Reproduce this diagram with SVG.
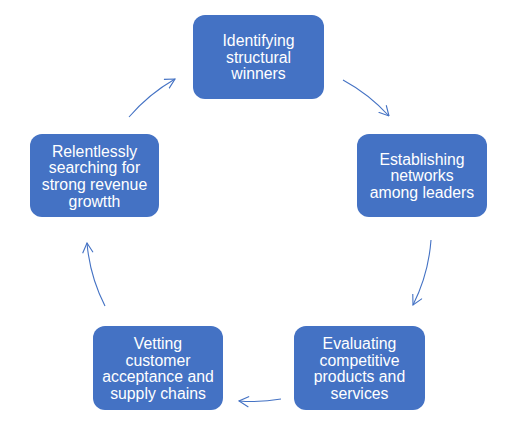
<svg xmlns="http://www.w3.org/2000/svg" width="516" height="430" viewBox="0 0 516 430">
<style>
.box{fill:#4472C4;}
.t{font-family:"Liberation Sans",Arial,sans-serif;font-size:15.8px;fill:#FFFFFF;text-anchor:middle;}
.c{fill:none;stroke:#4472C4;stroke-width:1.1;}
</style>
<defs>
<marker id="ah" viewBox="0 0 11 12" refX="10.3" refY="6" markerUnits="userSpaceOnUse" markerWidth="11" markerHeight="12" orient="auto">
<path d="M0.5,0.8 L10.3,6 L0.5,11.2" fill="none" stroke="#4472C4" stroke-width="1.1"/>
</marker>
</defs>
<rect width="516" height="430" fill="#FFFFFF"/>
<g id="connectors">
<path class="c" d="M343,80 A176,176 0 0 1 389,116" marker-end="url(#ah)"/>
<path class="c" d="M431,240 A172,172 0 0 1 413,305" marker-end="url(#ah)"/>
<path class="c" d="M281,399 A167,167 0 0 1 239,401" marker-end="url(#ah)"/>
<path class="c" d="M105,306 A170,170 0 0 1 87,243" marker-end="url(#ah)"/>
<path class="c" d="M129,117 A176,176 0 0 1 175,79" marker-end="url(#ah)"/>
</g>
<g id="n1">
<rect class="box" x="193" y="15" width="131" height="84" rx="12"/>
<text class="t"><tspan x="258.5" y="46">Identifying</tspan><tspan x="258.5" y="62.5">structural</tspan><tspan x="258.5" y="79">winners</tspan></text>
</g>
<g id="n2">
<rect class="box" x="357" y="134" width="130" height="83" rx="12"/>
<text class="t"><tspan x="422" y="164.5">Establishing</tspan><tspan x="422" y="181">networks</tspan><tspan x="422" y="198">among leaders</tspan></text>
</g>
<g id="n3">
<rect class="box" x="294" y="326" width="131" height="84" rx="12"/>
<text class="t"><tspan x="359.5" y="349">Evaluating</tspan><tspan x="359.5" y="365.5">competitive</tspan><tspan x="359.5" y="382">products and</tspan><tspan x="359.5" y="399">services</tspan></text>
</g>
<g id="n4">
<rect class="box" x="93" y="326" width="130" height="84" rx="12"/>
<text class="t"><tspan x="158" y="349">Vetting</tspan><tspan x="158" y="365.5">customer</tspan><tspan x="158" y="382">acceptance and</tspan><tspan x="158" y="399">supply chains</tspan></text>
</g>
<g id="n5">
<rect class="box" x="30" y="134" width="129" height="83" rx="12"/>
<text class="t"><tspan x="94.5" y="156.5">Relentlessly</tspan><tspan x="94.5" y="173">searching for</tspan><tspan x="94.5" y="190">strong revenue</tspan><tspan x="94.5" y="206.5">growtth</tspan></text>
</g>
</svg>
